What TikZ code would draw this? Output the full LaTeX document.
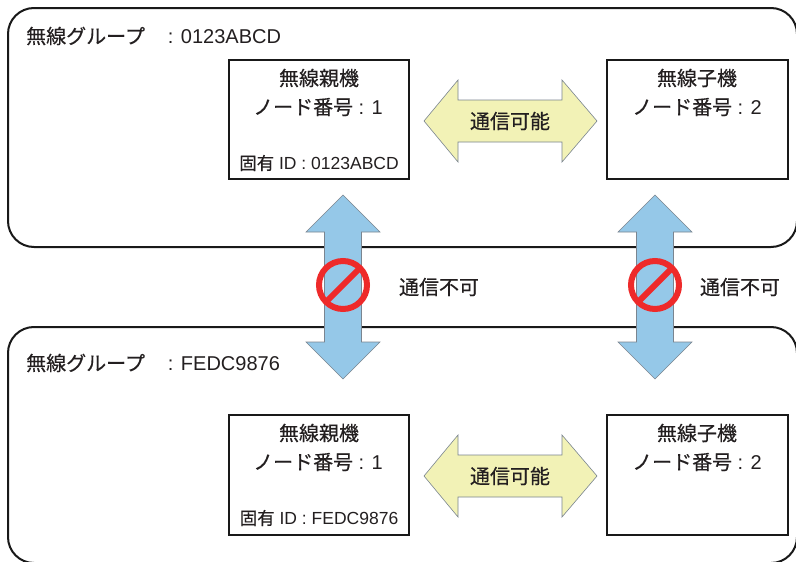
\documentclass[tikz,border=0pt]{standalone}
\usepackage{fontspec}
\setmainfont{Liberation Sans}
\newfontfamily\jp{Noto Sans CJK JP}[FakeBold=0.4]
\definecolor{txt}{HTML}{231F20}
\definecolor{yfill}{HTML}{F2F2B6}
\definecolor{bfill}{HTML}{95C8E8}
\definecolor{aline}{HTML}{7A8590}
\definecolor{nored}{HTML}{EE2A2A}
\tikzset{
  grp/.style={draw=black!90, line width=2pt, rounded corners=26pt},
  unit/.style={draw=black!90, line width=2.5pt},
  lbl/.style={text=txt, font=\fontsize{20}{23}\selectfont, inner sep=0pt},
  small/.style={text=txt, font=\fontsize{17.5}{20}\selectfont, inner sep=0pt},
  yarrow/.style={fill=yfill, draw=aline, line width=0.6pt},
  barrow/.style={fill=bfill, draw=aline, line width=0.6pt},
  nosign/.style={draw=nored, line width=6pt},
}
\begin{document}
\begin{tikzpicture}[x=1pt,y=-1pt]
\useasboundingbox (0,0) rectangle (796,562);
\fill[white] (0,0) rectangle (796,562);
% groups
\draw[grp] (8,8) rectangle (797,247);
\draw[grp] (8,327) rectangle (797,563);
\node[lbl, anchor=west] (g1) at (26,36) {{\jp 無線グループ　}\kern3pt: 0123ABCD};
\node[lbl, anchor=west] (g2) at (26,363) {{\jp 無線グループ　}\kern3pt: FEDC9876};
% units top
\draw[unit] (229,60) rectangle (409,179);
\node[lbl] (p1a) at (319,78) {\jp 無線親機};
\node[lbl] (p1b) at (318,107) {{\jp ノード番号} : 1};
\node[small] (p1c) at (319,163) {{\jp 固有} ID : 0123ABCD};
\draw[unit] (607,60) rectangle (788,179);
\node[lbl] (c1a) at (697,78) {\jp 無線子機};
\node[lbl] (c1b) at (697,107) {{\jp ノード番号} : 2};
% units bottom
\draw[unit] (229,415) rectangle (409,535);
\node[lbl] (p2a) at (319,433) {\jp 無線親機};
\node[lbl] (p2b) at (318,462) {{\jp ノード番号} : 1};
\node[small] (p2c) at (319,518) {{\jp 固有} ID : FEDC9876};
\draw[unit] (607,415) rectangle (788,535);
\node[lbl] (c2a) at (697,433) {\jp 無線子機};
\node[lbl] (c2b) at (697,462) {{\jp ノード番号} : 2};
% yellow arrows
\foreach \yy/\nm in {121/ya, 476/yb}{
  \draw[yarrow] (424,\yy) -- (458,\yy-41) -- (458,\yy-21) -- (562,\yy-21) -- (562,\yy-41)
     -- (597,\yy) -- (562,\yy+41) -- (562,\yy+21) -- (458,\yy+21) -- (458,\yy+41) -- cycle;
  \node[lbl] (\nm) at (510,\yy) {\jp 通信可能};
}
% blue arrows + no signs
\foreach \xx/\nm in {343/ba, 655/bb}{
  \draw[barrow] (\xx,195) -- (\xx+37,232) -- (\xx+18.5,232) -- (\xx+18.5,342) -- (\xx+37,342)
     -- (\xx,379) -- (\xx-37,342) -- (\xx-18.5,342) -- (\xx-18.5,232) -- (\xx-37,232) -- cycle;
  \draw[nosign] (\xx,285) circle[radius=24];
  \draw[nosign] (\xx,285) ++(135:24) -- ++(-45:48);
}
\node[lbl] (n1) at (439,287) {\jp 通信不可};
\node[lbl] (n2) at (740,287) {\jp 通信不可};
\end{tikzpicture}
\end{document}
